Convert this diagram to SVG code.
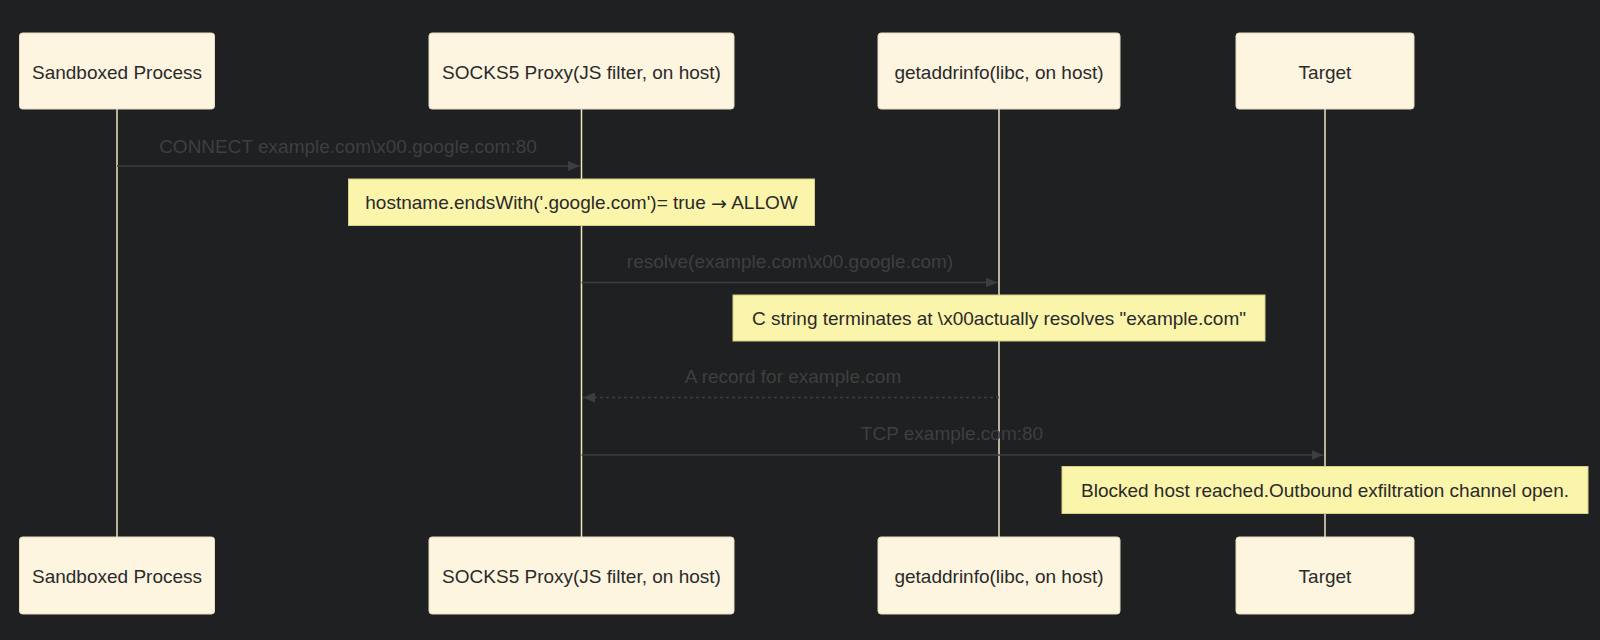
<svg xmlns="http://www.w3.org/2000/svg" width="1600" height="640" viewBox="0 0 1600 640">
<defs>
<style>
.actor rect{fill:#fdf5e0;stroke:#e6dcc2;stroke-width:1}
.actor text{font-family:"Liberation Sans",Arial,sans-serif;font-size:19px;fill:#2a2a2a;text-anchor:middle;dominant-baseline:central}
.life{stroke:#efe3c3;stroke-width:1.5}
.msg{stroke:#3c3d3e;stroke-width:1.5;fill:none}
.dash{stroke-dasharray:3,3}
.mtext{font-family:"Liberation Sans",Arial,sans-serif;font-size:19px;fill:#3e3f40;text-anchor:middle;dominant-baseline:central}
.note rect{fill:#fbf4ab;stroke:#d6cf86;stroke-width:1}
.note text{font-family:"Liberation Sans",Arial,sans-serif;font-size:19px;fill:#2a2a2a;text-anchor:middle;dominant-baseline:central}
.arrowglyph{font-family:"DejaVu Sans",sans-serif}
</style>
<marker id="arr" viewBox="0 0 12 10" refX="12" refY="5" markerWidth="12" markerHeight="10" markerUnits="userSpaceOnUse" orient="auto-start-reverse">
<path d="M0,0 L12,5 L0,10 z" fill="#3c3d3e"/>
</marker>
</defs>
<rect x="0" y="0" width="1600" height="640" fill="#1f2021"/>
<g id="lifelines">
<line class="life" x1="117" y1="109" x2="117" y2="537"/>
<line class="life" x1="581.5" y1="109" x2="581.5" y2="537"/>
<line class="life" x1="999" y1="109" x2="999" y2="537"/>
<line class="life" x1="1325" y1="109" x2="1325" y2="537"/>
</g>
<g id="actor-sandboxed-top" class="actor"><rect x="19.5" y="33" width="195" height="76" rx="3"/><text x="117" y="72">Sandboxed Process</text></g>
<g id="actor-socks-top" class="actor"><rect x="429" y="33" width="305" height="76" rx="3"/><text x="581.5" y="72">SOCKS5 Proxy(JS filter, on host)</text></g>
<g id="actor-getaddrinfo-top" class="actor"><rect x="878" y="33" width="242" height="76" rx="3"/><text x="999" y="72">getaddrinfo(libc, on host)</text></g>
<g id="actor-target-top" class="actor"><rect x="1236" y="33" width="178" height="76" rx="3"/><text x="1325" y="72">Target</text></g>
<g id="actor-sandboxed-bottom" class="actor"><rect x="19.5" y="537" width="195" height="77" rx="3"/><text x="117" y="576">Sandboxed Process</text></g>
<g id="actor-socks-bottom" class="actor"><rect x="429" y="537" width="305" height="77" rx="3"/><text x="581.5" y="576">SOCKS5 Proxy(JS filter, on host)</text></g>
<g id="actor-getaddrinfo-bottom" class="actor"><rect x="878" y="537" width="242" height="77" rx="3"/><text x="999" y="576">getaddrinfo(libc, on host)</text></g>
<g id="actor-target-bottom" class="actor"><rect x="1236" y="537" width="178" height="77" rx="3"/><text x="1325" y="576">Target</text></g>
<g id="connectors">
<line class="msg" x1="117" y1="166" x2="580" y2="166" marker-end="url(#arr)"/>
<text class="mtext" x="348" y="146">CONNECT example.com\x00.google.com:80</text>
<line class="msg" x1="581.5" y1="282.5" x2="997.5" y2="282.5" marker-end="url(#arr)"/>
<text class="mtext" x="790" y="261">resolve(example.com\x00.google.com)</text>
<line class="msg dash" x1="999" y1="397.5" x2="583" y2="397.5" marker-end="url(#arr)"/>
<text class="mtext" x="793" y="376">A record for example.com</text>
<line class="msg" x1="581.5" y1="455" x2="1323.5" y2="455" marker-end="url(#arr)"/>
<text class="mtext" x="952" y="433">TCP example.com:80</text>
</g>
<g id="note-allow" class="note"><rect x="348.5" y="179" width="466" height="46.5"/><text x="581.5" y="202.5">hostname.endsWith('.google.com')= true <tspan class="arrowglyph">→</tspan> ALLOW</text></g>
<g id="note-cstring" class="note"><rect x="733" y="295" width="532" height="46"/><text x="999" y="318">C string terminates at \x00actually resolves "example.com"</text></g>
<g id="note-blocked" class="note"><rect x="1062" y="466.5" width="526" height="47"/><text x="1325" y="490">Blocked host reached.Outbound exfiltration channel open.</text></g>
</svg>
